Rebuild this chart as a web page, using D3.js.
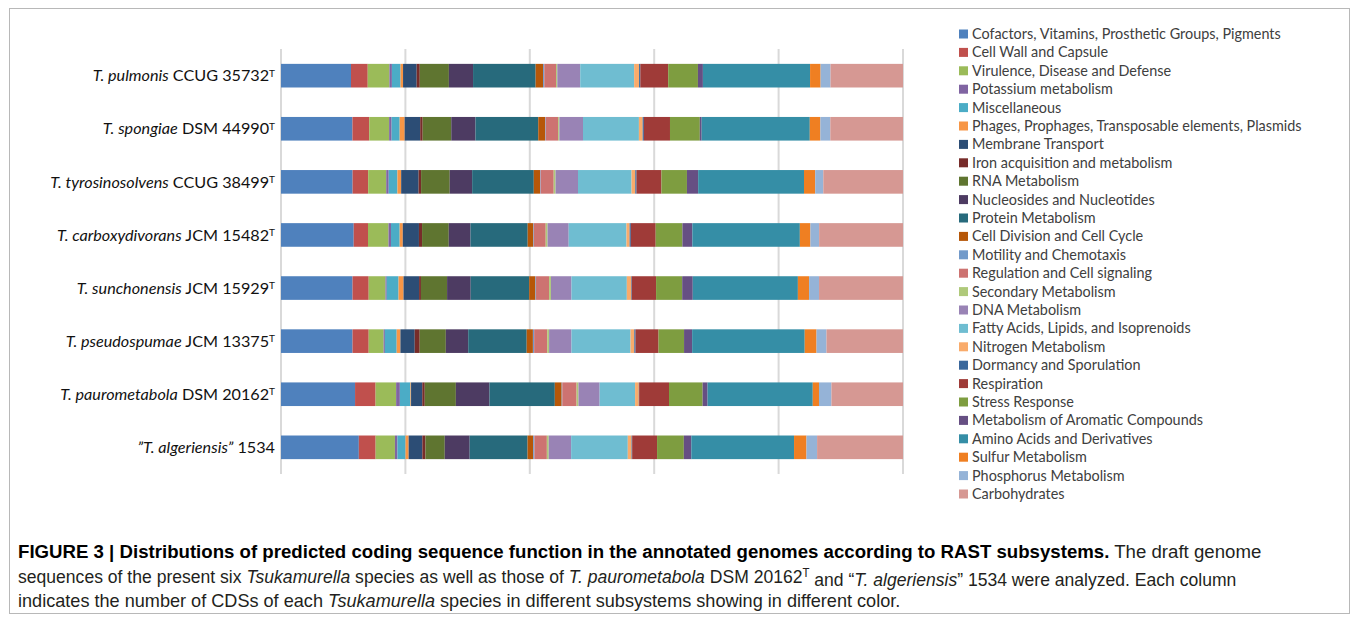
<!DOCTYPE html>
<html>
<head>
<meta charset="utf-8">
<script src="https://cdn.jsdelivr.net/npm/d3@7"></script>
<style>
  body { margin: 0; background: #fff; }
  svg { display: block; }
</style>
</head>
<body>
<div id="chart"></div>
<script>
			// Subsystem categories (legend order = stacking order, left to right)
			var categories = [
				"Cofactors, Vitamins, Prosthetic Groups, Pigments",
				"Cell Wall and Capsule",
				"Virulence, Disease and Defense",
				"Potassium metabolism",
				"Miscellaneous",
				"Phages, Prophages, Transposable elements, Plasmids",
				"Membrane Transport",
				"Iron acquisition and metabolism",
				"RNA Metabolism",
				"Nucleosides and Nucleotides",
				"Protein Metabolism",
				"Cell Division and Cell Cycle",
				"Motility and Chemotaxis",
				"Regulation and Cell signaling",
				"Secondary Metabolism",
				"DNA Metabolism",
				"Fatty Acids, Lipids, and Isoprenoids",
				"Nitrogen Metabolism",
				"Dormancy and Sporulation",
				"Respiration",
				"Stress Response",
				"Metabolism of Aromatic Compounds",
				"Amino Acids and Derivatives",
				"Sulfur Metabolism",
				"Phosphorus Metabolism",
				"Carbohydrates"
			];

			var colors = [
				"#4f81bd", "#c0504d", "#9bbb59", "#8064a2", "#4bacc6", "#f79646",
				"#2c4d75", "#772c2a", "#5f7530", "#4d3b62", "#276a7c", "#b65708",
				"#729aca", "#cd7371", "#afc97a", "#9983b5", "#6fbdd1", "#f9ab6b",
				"#3a679c", "#9f3b38", "#7e9d40", "#664f83", "#358ea6", "#ef7f22",
				"#95b3d7", "#d69893"
			];

			// Species (top to bottom)
			var speciesNames = ["T. pulmonis", "T. spongiae", "T. tyrosinosolvens", "T. carboxydivorans",
				"T. sunchonensis", "T. pseudospumae", "T. paurometabola", "\u201DT. algeriensis\u201D"];
			var strainNames = ["CCUG 35732", "DSM 44990", "CCUG 38499", "JCM 15482",
				"JCM 15929", "JCM 13375", "DSM 20162", "1534"];
			var typeStrain = [true, true, true, true, true, true, true, false];

			// Share of CDSs (%) per subsystem, same order as categories
			var pulmonis =          [11.3, 2.7, 3.5, 0.4, 1.4, 0.4, 2.2, 0.5, 4.7, 3.9, 10.1, 1.2, 0.2, 1.9, 0.2, 3.7, 8.7, 0.8, 0.2, 4.5, 4.8, 0.8, 17.3, 1.7, 1.6, 11.7];
			var spongiae =          [11.5, 2.7, 3.2, 0.4, 1.3, 0.8, 2.5, 0.4, 4.6, 3.9, 10.1, 1.1, 0.1, 2.0, 0.2, 3.8, 9.0, 0.6, 0.2, 4.2, 4.8, 0.3, 17.4, 1.7, 1.6, 11.7];
			var tyrosinosolvens =   [11.5, 2.5, 2.9, 0.4, 1.4, 0.6, 2.8, 0.4, 4.6, 3.6, 9.9, 1.0, 0.1, 2.1, 0.3, 3.6, 8.6, 0.6, 0.2, 4.0, 4.1, 1.8, 17.0, 1.8, 1.3, 12.8];
			var carboxydivorans =   [11.7, 2.3, 3.3, 0.4, 1.4, 0.5, 2.6, 0.5, 4.3, 3.5, 9.2, 0.9, 0.1, 1.9, 0.3, 3.4, 9.3, 0.5, 0.2, 4.0, 4.3, 1.6, 17.3, 1.7, 1.4, 13.5];
			var sunchonensis =      [11.5, 2.6, 2.7, 0.2, 1.9, 0.8, 2.5, 0.3, 4.2, 3.8, 9.4, 1.0, 0.1, 2.1, 0.3, 3.3, 8.9, 0.7, 0.1, 3.9, 4.2, 1.7, 16.9, 1.8, 1.6, 13.5];
			var pseudospumae =      [11.5, 2.6, 2.4, 0.2, 1.9, 0.6, 2.3, 0.8, 4.2, 3.6, 9.4, 1.0, 0.2, 2.1, 0.3, 3.6, 9.5, 0.6, 0.2, 3.7, 4.1, 1.3, 18.1, 1.9, 1.6, 12.3];
			var paurometabola =     [11.9, 3.3, 3.3, 0.6, 1.7, 0.1, 1.8, 0.4, 5.0, 5.4, 10.5, 1.1, 0.1, 2.3, 0.3, 3.4, 5.7, 0.6, 0.05, 4.8, 5.4, 0.8, 16.9, 1.0, 2.0, 11.5];
			var algeriensis =       [12.5, 2.7, 3.1, 0.4, 1.3, 0.5, 2.2, 0.5, 3.1, 4.0, 9.3, 0.9, 0.2, 2.0, 0.3, 3.6, 9.1, 0.6, 0.1, 4.0, 4.3, 1.2, 16.5, 2.0, 1.7, 13.8];

			var speciesValues = [pulmonis, spongiae, tyrosinosolvens, carboxydivorans,
				sunchonensis, pseudospumae, paurometabola, algeriensis];

			// Build a table for d3.stack
			var dataset = speciesValues.map(function(vals, i) {
				var row = { idx: i };
				categories.forEach(function(c, j) { row[c] = vals[j]; });
				return row;
			});

			//Width and height
			var w = 1358;
			var h = 621;
			var plotLeft = 281, plotRight = 903, plotTop = 49, plotBottom = 474;

			var stack = d3.stack()
				.keys(categories)
				.offset(d3.stackOffsetExpand);
			var series = stack(dataset);

			var xScale = d3.scaleLinear()
				.domain([0, 1])
				.range([plotLeft, plotRight]);

			var yScale = d3.scaleBand()
				.domain(d3.range(speciesNames.length))
				.range([plotTop, plotBottom])
				.paddingInner(0.555)
				.paddingOuter(0.28);

			var svg = d3.select("#chart")
				.append("svg")
				.attr("width", w)
				.attr("height", h);

			// outer frame of the figure
			svg.append("rect")
				.attr("x", 9.5)
				.attr("y", 8.5)
				.attr("width", 1340)
				.attr("height", 605)
				.attr("fill", "none")
				.attr("stroke", "#b8b8b8")
				.attr("stroke-width", 1);

			// vertical gridlines (no tick labels in the original)
			svg.append("g")
				.attr("class", "grid")
				.selectAll("line")
				.data(xScale.ticks(5))
				.enter()
				.append("line")
				.attr("x1", function(d) { return xScale(d); })
				.attr("x2", function(d) { return xScale(d); })
				.attr("y1", plotTop)
				.attr("y2", plotBottom)
				.attr("stroke", "#d9d9d9")
				.attr("stroke-width", 2);

			// one group per subsystem
			var groups = svg.selectAll("g.series")
				.data(series)
				.enter()
				.append("g")
				.attr("class", "series")
				.style("fill", function(d, i) { return colors[i]; });

			groups.selectAll("rect")
				.data(function(d) { return d; })
				.enter()
				.append("rect")
				.attr("x", function(d) { return xScale(d[0]); })
				.attr("y", function(d) { return yScale(d.data.idx); })
				.attr("width", function(d) { return Math.max(0, xScale(d[1]) - xScale(d[0])); })
				.attr("height", yScale.bandwidth());

			// species labels
			var labels = svg.append("g")
				.attr("class", "ylabels")
				.selectAll("text")
				.data(d3.range(speciesNames.length))
				.enter()
				.append("text")
				.attr("x", plotLeft - 6)
				.attr("y", function(d) { return yScale(d) + yScale.bandwidth() / 2; })
				.attr("dy", "0.35em")
				.attr("text-anchor", "end")
				.style("font-family", "Lato, 'Open Sans', sans-serif")
				.style("font-size", "16.2px")
				.style("fill", "#111");

			labels.append("tspan")
				.style("font-style", "italic")
				.text(function(d) { return speciesNames[d]; });
			labels.append("tspan")
				.text(function(d) { return " " + strainNames[d]; });
			labels.filter(function(d) { return typeStrain[d]; })
				.append("tspan")
				.attr("dy", "-0.45em")
				.style("font-size", "10px")
				.text("T");

			// legend
			var legend = svg.append("g")
				.attr("class", "legend")
				.attr("transform", "translate(959, 34)");

			var items = legend.selectAll("g")
				.data(categories)
				.enter()
				.append("g")
				.attr("transform", function(d, i) { return "translate(0," + (i * 18.4) + ")"; });

			items.append("rect")
				.attr("x", 0)
				.attr("y", -4.5)
				.attr("width", 9)
				.attr("height", 9)
				.attr("fill", function(d, i) { return colors[i]; });

			items.append("text")
				.attr("x", 13)
				.attr("y", 0)
				.attr("dy", "0.35em")
				.style("font-family", "Lato, 'Open Sans', sans-serif")
				.style("font-size", "14.4px")
				.style("fill", "#404040")
				.text(function(d) { return d; });

			// caption (condensed look: Liberation Sans squeezed horizontally)
			var cap = svg.append("g")
				.attr("class", "caption")
				.style("font-family", "'Liberation Sans', Arial, sans-serif")
				.style("font-size", "18.5px")
				.style("fill", "#231f20");

			var l1 = cap.append("text").attr("y", 558);
			l1.append("tspan").style("font-weight", "bold").style("fill", "#000")
				.text("FIGURE 3 | Distributions of predicted coding sequence function in the annotated genomes according to RAST subsystems.");
			l1.append("tspan").text(" The draft genome");

			var l2 = cap.append("text").attr("y", 583);
			l2.append("tspan").text("sequences of the present six ");
			l2.append("tspan").style("font-style", "italic").text("Tsukamurella");
			l2.append("tspan").text(" species as well as those of ");
			l2.append("tspan").style("font-style", "italic").text("T. paurometabola");
			l2.append("tspan").text(" DSM 20162");
			l2.append("tspan").attr("dy", "-0.5em").style("font-size", "12px").text("T");
			l2.append("tspan").attr("dy", "0.5em").text(" and \u201C");
			l2.append("tspan").style("font-style", "italic").text("T. algeriensis");
			l2.append("tspan").text("\u201D 1534 were analyzed. Each column");

			var l3 = cap.append("text").attr("y", 607);
			l3.append("tspan").text("indicates the number of CDSs of each ");
			l3.append("tspan").style("font-style", "italic").text("Tsukamurella");
			l3.append("tspan").text(" species in different subsystems showing in different color.");

			// squeeze each line so it spans the same width as the printed caption
			[[l1, 1244], [l2, 1219], [l3, 883]].forEach(function(p) {
				var sx = p[1] / p[0].node().getComputedTextLength();
				p[0].attr("transform", "translate(18,0) scale(" + sx + ",1)");
			});
</script>
</body>
</html>
